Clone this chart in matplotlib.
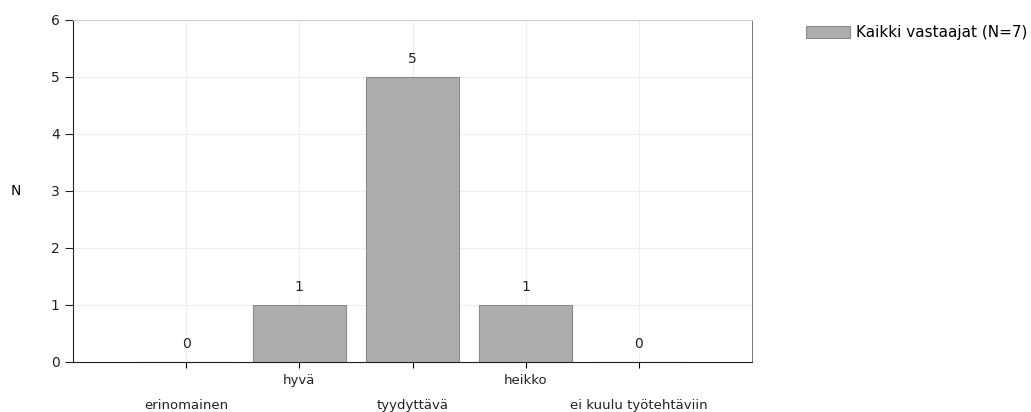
import numpy as np
import matplotlib
matplotlib.use('Agg')
import matplotlib.pyplot as plt

categories = ['erinomainen', 'hyvä', 'tyydyttävä', 'heikko', 'ei kuulu työtehtäviin']
values = [0, 1, 5, 1, 0]
series_name = 'Kaikki vastaajat (N=7)'

fig = plt.figure(figsize=(10.31, 4.12), dpi=100)
ax = fig.add_axes([0.0708, 0.1214, 0.6586, 0.8301])

x = np.arange(len(categories))
bars = ax.bar(x, values, width=0.82, color='#adadad', edgecolor='#8a8a8a',
              linewidth=0.8, label=series_name, zorder=2)

for xi, v in zip(x, values):
    ax.text(xi, v + 0.2, str(v), ha='center', va='bottom', fontsize=10, color='#222222')

ax.set_xlim(-1, len(categories))
ax.set_ylim(0, 6)
ax.set_yticks(range(0, 7))
ax.set_xticks(x)
ax.set_xticklabels([])
for xi, name in zip(x, categories):
    off = -0.32 if xi % 2 == 1 else -0.77
    ax.text(xi, off, name, ha='center', va='center', fontsize=9.5, color='#222222')

ax.set_ylabel('N', rotation=0, fontsize=10, labelpad=25, va='center')
ax.grid(True, color='#eeeeee', linewidth=0.8, zorder=0)
ax.tick_params(axis='y', direction='out', length=6, labelsize=10, colors='#222222')
ax.tick_params(axis='x', direction='out', length=4)
ax.spines['left'].set_color('#222222')
ax.spines['bottom'].set_color('#222222')
ax.spines['top'].set_color('#cccccc')
ax.spines['right'].set_color('#777777')
ax.spines['right'].set_linewidth(0.7)

fig.legend(loc='upper left', bbox_to_anchor=(0.768, 0.972), frameon=False,
           fontsize=11, handlelength=2.9, handleheight=0.9, handletextpad=0.4)

fig.savefig('out.png', dpi=100)
